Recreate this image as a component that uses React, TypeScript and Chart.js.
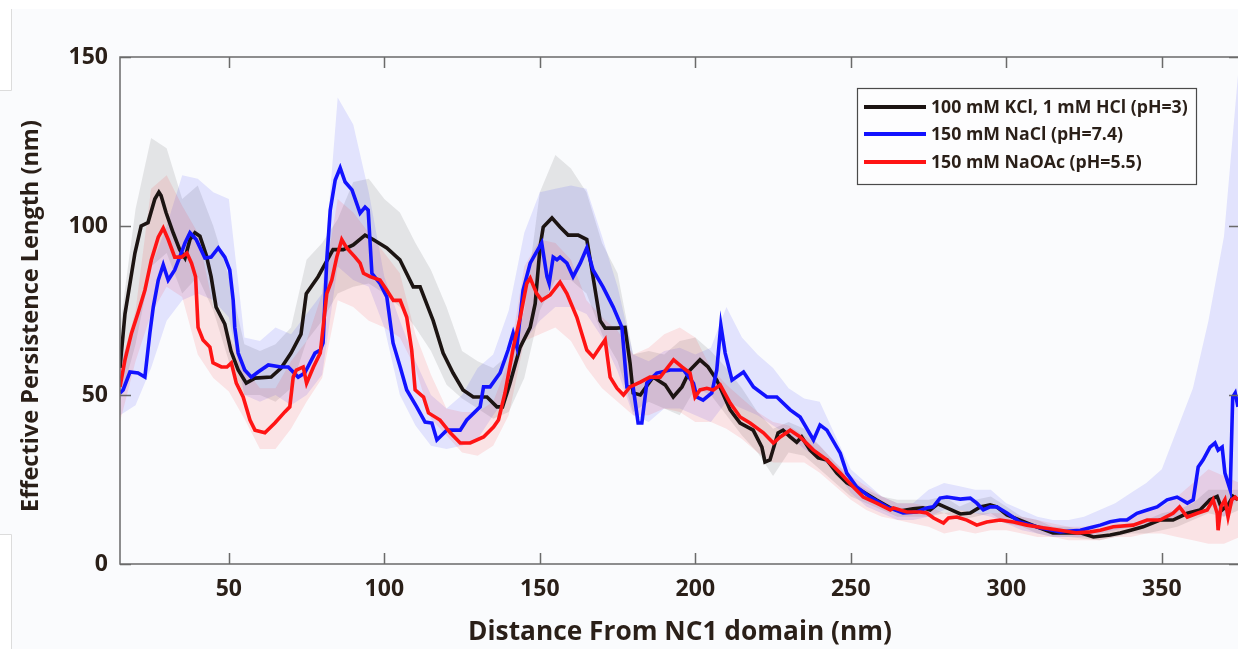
import React, { useEffect, useRef } from "react";
import { Chart, registerables } from "chart.js";

Chart.register(...registerables);

const W = 1238;
const H = 649;

const xTicks = [50, 100, 150, 200, 250, 300, 350];
const yTicks = [0, 50, 100, 150];
const xTitle = "Distance From NC1 domain (nm)";
const yTitle = "Effective Persistence Length (nm)";
const seriesLabels = [
  "100 mM KCl, 1 mM HCl (pH=3)",
  "150 mM NaCl (pH=7.4)",
  "150 mM NaOAc (pH=5.5)",
];
const lineColors = ["#1c1412", "#1212ff", "#ff1414"];
const bandColors = [
  "rgba(110,115,115,0.16)",
  "rgba(20,20,255,0.10)",
  "rgba(255,20,20,0.10)",
];

// mean curves, [distance, persistence length]
const blackPts = [
  [15, 58], [16.6, 74], [19.8, 92], [21.8, 100], [24, 101], [26.2, 108], [27.5, 110], [28.2, 109],
  [29.8, 104], [32.1, 98], [34.2, 93], [35.9, 90.5], [37.5, 96], [39.1, 98], [40.7, 97], [42.7, 91.5],
  [44.3, 85], [45.9, 76], [48.7, 71], [50.7, 63], [53, 57.4], [55.6, 53.5], [58.4, 55], [63.6, 55.3],
  [66.8, 58], [70, 62.4], [73.2, 68], [74.9, 80], [78.7, 85], [83.5, 93], [86.8, 93], [90, 94.4],
  [93.8, 97.3], [96.4, 96], [100.8, 93.5], [105, 90], [109.3, 82], [111.5, 82], [115.7, 72], [118.9, 62.4],
  [122.1, 56.5], [125.3, 51.5], [128.6, 49.4], [133, 49.4], [136.2, 46.5], [138, 46.5], [140.4, 53.5],
  [143.6, 64], [146.9, 70], [148.5, 77], [150.1, 94], [151.1, 99.7], [153.9, 102.4], [156.5, 99.7],
  [159.1, 97.3], [162.3, 97.3], [165.1, 96], [167.1, 85], [169.4, 72], [171, 69.8], [174.8, 69.8],
  [177.4, 70], [179, 59.5], [180, 50.6], [182.3, 50], [186.4, 55.3], [190.3, 53], [192.9, 49.4],
  [195.7, 52.4], [198.3, 57.4], [201.5, 60.4], [204.1, 58.3], [206.9, 54.4], [211.2, 45.6], [214.4, 41.7],
  [218.6, 39.6], [221.4, 34.6], [222.4, 30.2], [224, 30.8], [226.6, 38.8], [228.2, 39.6], [230.5, 37.6],
  [232.6, 36], [234.2, 37.6], [236.9, 33.7], [239.5, 31.4], [242.3, 30.8], [245.5, 26.9], [248.7, 24],
  [253, 21.9], [258.3, 18.9], [262.7, 16.6], [265.8, 15.7], [270, 16.3], [273.2, 16.6], [275.5, 16],
  [278, 17.8], [280.9, 16.6], [285.2, 14.8], [288.4, 15.1], [291.6, 16.9], [294.8, 17.5], [296.9, 16.9],
  [300.2, 14.5], [304.4, 13], [309.8, 11], [315, 9.2], [319.4, 9.2], [323.8, 9.2], [328, 8], [333.4, 8.6],
  [336.6, 9.2], [340, 10], [344, 11], [349.4, 13], [353.6, 13], [358.2, 15], [362.3, 16], [365.5, 19],
  [367.8, 20], [369.4, 16], [371.3, 17.5], [372.9, 20], [374.5, 19],
];

const bluePts = [
  [15, 50.6], [16, 51.5], [18.2, 56.8], [20.8, 56.5], [23, 55.3], [24.6, 68.3], [25.7, 76], [27.3, 84],
  [28.9, 88.5], [30.5, 84], [32.6, 87], [34.2, 90.8], [35.9, 95], [37.5, 98], [39.5, 96], [42.3, 90.5],
  [44.3, 90.8], [46.6, 93.5], [48.7, 90.8], [50.3, 87], [51.4, 78], [51.9, 70], [53, 62.4], [55.1, 57.4],
  [57.2, 55.3], [59.4, 56.8], [62.7, 58.9], [66.8, 58.3], [69.1, 58.3], [72.3, 55.3], [74.4, 56.5],
  [77.7, 62.4], [79.4, 63.3], [80.3, 65.4], [81.5, 90], [82.6, 104.7], [84.2, 113.6], [85.8, 117.2],
  [87.4, 113], [89.6, 110.7], [92.2, 103.8], [93.8, 105.6], [94.8, 104.7], [96, 86], [98.6, 83],
  [100.8, 79], [102.8, 65.4], [105.1, 58.3], [107.2, 51.5], [110.4, 46.5], [113.1, 42], [115.3, 41.7],
  [116.9, 36.7], [120.1, 39.6], [124.4, 39.6], [126.5, 42.6], [130.8, 46.5], [131.9, 52.4], [134, 52.4],
  [137.2, 56.5], [139.8, 63.3], [141.4, 68.3], [142.6, 64.2], [144.6, 81], [146.9, 89], [150.6, 95],
  [152.3, 85], [153, 83], [154.3, 90.8], [155.5, 90], [156.5, 90.8], [158.7, 89], [160.7, 85], [163, 89],
  [165.1, 93.5], [167.1, 87], [170.3, 82], [173.6, 76], [176.4, 70], [178, 52.4], [180, 52.4],
  [181.6, 41.7], [182.8, 41.7], [184.4, 53.5], [187.6, 56.5], [191.9, 57.4], [196.2, 57.4], [199.4, 53.5],
  [200.5, 49.4], [202.5, 48.5], [205.3, 50.6], [206.9, 57.4], [208.2, 70.7], [209.6, 62.4], [211.8, 54.4],
  [215.5, 56.8], [218.7, 52.4], [223, 49.4], [226.2, 49.4], [230.5, 45.6], [233.7, 43.5], [238, 36.7],
  [240.1, 41.1], [242.3, 39.6], [246.6, 32.8], [248.7, 26.9], [251.9, 22.8], [256.2, 19.8], [261.6, 16.9],
  [266.8, 15.1], [271.2, 15.4], [274.4, 16.6], [276.5, 16.9], [278.7, 19.5], [280.9, 19.8], [285.2, 19.2],
  [288.4, 19.5], [290.5, 18], [292.6, 16], [294.8, 16.9], [296.9, 16.9], [300.2, 15.1], [304.4, 12.4],
  [310.9, 10.7], [317.3, 9.5], [323.8, 10], [326.9, 10.7], [330.2, 11.5], [333.4, 12.5], [336.6, 13],
  [338.8, 13], [342, 15], [345.3, 16], [348.5, 16.9], [351.7, 19], [354.9, 19.8], [358.2, 18], [360.1, 19],
  [361.7, 28.7], [363.3, 30.8], [365.5, 34.6], [367.1, 35.8], [368.1, 33.7], [369.4, 34.6], [370.3, 26.9],
  [372, 21.9], [372.8, 49.4], [373.6, 50.6], [374.5, 46.5],
];

const redPts = [
  [15, 52.4], [16.6, 60.4], [18.7, 68.3], [20.8, 74.3], [23, 81], [25.1, 90], [27.3, 96.7], [28.9, 99.4],
  [30.5, 96], [32.6, 90.8], [34.8, 90.8], [36.5, 92], [38, 89], [39.3, 85], [40.1, 70], [41.7, 66.3],
  [43.9, 64.2], [44.9, 59.5], [47.6, 58.3], [49.4, 58.3], [50.8, 59.5], [52.4, 53.5], [54.6, 49.4],
  [56.8, 42.6], [58.4, 39.6], [61.6, 38.8], [64.8, 41.7], [68, 45], [69.6, 46.5], [70.7, 55.3],
  [71.7, 57.4], [73.9, 58.3], [75, 53.5], [77.2, 58.3], [79.4, 62.4], [81.5, 80], [83.1, 84], [84.7, 90.8],
  [86.3, 96], [87.9, 93.5], [90.6, 90.8], [92.2, 89], [93.3, 86], [95.4, 85], [98.6, 84], [100.8, 81],
  [102.9, 78], [105.1, 78], [107.2, 73], [108.8, 63.3], [109.9, 51.5], [112.6, 49.4], [114.2, 44.7],
  [117.9, 42.6], [121.2, 38.8], [124.4, 35.8], [127.6, 35.8], [131.9, 37.6], [135.1, 40.5], [136.7, 42.6],
  [138.8, 50.6], [141.5, 64.2], [143.7, 73], [145.8, 83], [146.9, 84.6], [149, 80], [150.6, 78],
  [153.3, 79.6], [156.5, 83.4], [158.7, 80], [161.9, 73], [165.1, 63.3], [167.2, 61.2], [169.4, 64.2],
  [171, 66.3], [172.6, 55.3], [174.8, 52], [176.9, 50], [179, 52.4], [182.3, 53.8], [185.4, 55.3],
  [188.7, 55.3], [193, 60.4], [195.7, 58.3], [198.3, 56.5], [199.9, 49.4], [201.5, 51.5], [203.7, 52],
  [205.8, 51.5], [208, 53], [211.2, 47.6], [214.4, 43.5], [217.6, 41.7], [221.9, 38.8], [225.1, 35.8],
  [227.3, 37.6], [230.5, 39.6], [233.7, 37.6], [238, 33.7], [242.3, 30.8], [246.6, 26.9], [250.8, 22.8],
  [254, 19.8], [258.3, 18], [262.7, 16], [263.7, 16.6], [268, 15.4], [272.3, 15.4], [274.4, 15.1],
  [276.6, 13.6], [279.8, 12.1], [281.4, 13.6], [284.1, 13.9], [287.3, 13], [290.5, 11.5], [293.7, 12.4],
  [298, 13], [302.3, 12.4], [306.6, 11.5], [311.8, 10.7], [317.3, 10], [322.7, 9.2], [327, 9.5],
  [330.2, 10], [334.4, 11], [340.8, 11.5], [345.3, 13], [349.4, 13], [353.6, 15], [355.7, 16.9],
  [358.2, 13.9], [361.4, 15], [364.6, 16], [366.5, 19], [367.8, 15], [368.1, 10], [369, 16.9],
  [370.3, 19], [371.3, 13.9], [372.5, 19], [373.6, 19.8], [374.5, 19],
];

// shaded uncertainty bands, sampled every 5 nm
const bandX = [
  15, 20, 25, 30, 35, 40, 45, 50, 55, 60, 65, 70, 75, 80, 85, 90, 95, 100, 105, 110, 115, 120, 125, 130,
  135, 140, 145, 150, 155, 160, 165, 170, 175, 180, 185, 190, 195, 200, 205, 210, 215, 220, 225, 230, 235,
  240, 245, 250, 255, 260, 265, 270, 275, 280, 285, 290, 295, 300, 305, 310, 315, 320, 325, 330, 335, 340,
  345, 350, 355, 360, 365, 370, 375,
];
const blackHi = [
  70, 105, 126, 123, 108, 112, 100, 85, 65, 63, 65, 70, 90, 95, 102, 113, 114, 108, 104, 95, 87, 76, 63, 60,
  58, 62, 75, 110, 121, 117, 110, 95, 86, 62, 63, 62, 66, 67, 63, 58, 52, 45, 40, 42, 40,
  35, 30, 25, 22, 20, 19, 19, 19, 20, 17, 19, 20, 17, 14, 13, 11, 11, 10, 10, 11, 12,
  13, 15, 16, 18, 22, 22, 22,
];
const blackLo = [
  48, 65, 88, 92, 80, 85, 75, 60, 50, 50, 48, 52, 66, 72, 80, 82, 83, 80, 76, 70, 63, 53, 49, 46,
  43, 45, 55, 75, 84, 84, 80, 68, 60, 45, 48, 46, 44, 52, 50, 44, 38, 33, 26, 33, 32,
  28, 24, 20, 18, 16, 14, 14, 14, 15, 13, 14, 15, 12, 11, 9, 8, 8, 7.5, 7, 8, 9,
  9, 10, 11, 13, 15, 14, 16,
];
const blueHi = [
  60, 70, 88, 100, 115, 114, 110, 108, 67, 66, 70, 68, 74, 80, 138, 130, 110, 85, 72, 60, 50, 46, 50, 58,
  62, 75, 98, 110, 111, 112, 111, 97, 82, 62, 60, 63, 64, 62, 64, 76, 67, 62, 58, 52, 49,
  48, 38, 28, 24, 20, 18, 18, 22, 24, 23, 22, 22, 18, 16, 14, 13, 13, 14, 16, 18, 21,
  24, 28, 40, 52, 72, 97, 150,
];
const blueLo = [
  44, 47, 58, 72, 78, 80, 78, 73, 50, 48, 50, 47, 50, 56, 88, 84, 82, 70, 50, 41, 35, 34, 35, 37,
  44, 50, 66, 72, 76, 76, 74, 67, 57, 44, 42, 46, 46, 44, 42, 48, 46, 44, 41, 38, 34,
  31, 28, 21, 17, 15, 13, 13, 14, 16, 16, 15, 14, 12, 10, 9, 8, 8, 8, 9, 10, 11,
  12, 13, 14, 15, 18, 14, 20,
];
const redHi = [
  58, 75, 111, 115, 106, 98, 76, 68, 58, 52, 52, 60, 66, 80, 108, 104, 98, 92, 86, 68, 56, 46, 45, 45,
  48, 60, 88, 96, 95, 90, 78, 73, 69, 62, 64, 68, 70, 67, 58, 53, 49, 45, 42, 41, 38,
  35, 30, 26, 23, 20, 18, 18, 17, 15, 16, 15, 15, 15, 14, 13, 12, 11, 11, 12, 13, 14,
  16, 17, 20, 24, 28, 26, 24,
];
const redLo = [
  42, 60, 74, 82, 79, 62, 55, 51, 43, 34, 34, 40, 48, 55, 78, 76, 72, 70, 67, 58, 43, 38, 33, 32,
  35, 44, 66, 68, 70, 66, 58, 52, 48, 44, 44, 46, 45, 42, 42, 40, 37, 33, 30, 30, 30,
  27, 23, 19, 16, 14, 13, 12, 11, 9, 10, 9, 10, 10, 9, 8, 8, 7, 7, 7, 8, 8,
  9, 9, 8, 7, 6, 6, 8,
];

const TEXT = "#2a1f18";
const FONT = '"Open Sans", "DejaVu Sans", sans-serif';

function fitFont(ctx: CanvasRenderingContext2D, text: string, target: number, base: number) {
  ctx.font = `bold ${base}px ${FONT}`;
  const w = ctx.measureText(text).width;
  return (base * target) / w;
}

const decorPlugin = {
  id: "decor",
  beforeDraw(chart: any) {
    const ctx = chart.ctx as CanvasRenderingContext2D;
    ctx.save();
    ctx.fillStyle = "#fafbfd";
    ctx.fillRect(0, 0, chart.width, chart.height);
    ctx.fillStyle = "#ffffff";
    ctx.fillRect(0, 0, chart.width, 9);
    ctx.fillRect(0, 9, 11, 81);
    ctx.fillRect(0, 534, 11, 115);
    ctx.strokeStyle = "#dcdcdc";
    ctx.lineWidth = 1;
    ctx.beginPath();
    ctx.moveTo(11.5, 9);
    ctx.lineTo(11.5, 90.5);
    ctx.lineTo(0, 90.5);
    ctx.moveTo(0, 534.5);
    ctx.lineTo(11.5, 534.5);
    ctx.lineTo(11.5, 649);
    ctx.stroke();
    ctx.restore();
  },
  afterDraw(chart: any) {
    const ctx = chart.ctx as CanvasRenderingContext2D;
    const { left, right, top, bottom } = chart.chartArea;
    const xs = chart.scales.x;
    const ys = chart.scales.y;
    ctx.save();
    // box and inward ticks
    ctx.strokeStyle = "#6a6a6a";
    ctx.lineWidth = 1.5;
    ctx.beginPath();
    ctx.moveTo(right + 2, top);
    ctx.lineTo(left, top);
    ctx.lineTo(left, bottom);
    ctx.lineTo(right + 2, bottom);
    const tl = 11;
    xTicks.forEach((v) => {
      const px = Math.round(xs.getPixelForValue(v)) + 0.5;
      ctx.moveTo(px, bottom);
      ctx.lineTo(px, bottom - tl);
      ctx.moveTo(px, top);
      ctx.lineTo(px, top + tl);
    });
    yTicks.forEach((v) => {
      const py = Math.round(ys.getPixelForValue(v)) + 0.5;
      ctx.moveTo(left, py);
      ctx.lineTo(left + tl, py);
      ctx.moveTo(right - 9, py);
      ctx.lineTo(right + 2, py);
    });
    ctx.stroke();

    // axis titles
    ctx.fillStyle = TEXT;
    const fx = fitFont(ctx, xTitle, 424, 24);
    ctx.font = `bold ${fx}px ${FONT}`;
    ctx.textAlign = "center";
    ctx.textBaseline = "alphabetic";
    ctx.fillText(xTitle, (left + right) / 2 + 1, 640);

    const fy = fitFont(ctx, yTitle, 392, 24);
    ctx.font = `bold ${fy}px ${FONT}`;
    ctx.save();
    ctx.translate(38, 316);
    ctx.rotate(-Math.PI / 2);
    ctx.fillText(yTitle, 0, 0);
    ctx.restore();

    // legend box
    const lx = 857, ly = 88, lw = 339, lh = 96;
    ctx.fillStyle = "#fdfdfe";
    ctx.fillRect(lx, ly, lw, lh);
    ctx.strokeStyle = "#4a4a4a";
    ctx.lineWidth = 1.2;
    ctx.strokeRect(lx + 0.5, ly + 0.5, lw, lh);
    const fl = fitFont(ctx, seriesLabels[0], 257, 17);
    const rows = [107, 134, 162];
    seriesLabels.forEach((lab, i) => {
      ctx.strokeStyle = lineColors[i];
      ctx.lineWidth = 4;
      ctx.beginPath();
      ctx.moveTo(864, rows[i]);
      ctx.lineTo(926, rows[i]);
      ctx.stroke();
      ctx.fillStyle = TEXT;
      ctx.font = `bold ${fl}px ${FONT}`;
      ctx.textAlign = "left";
      ctx.textBaseline = "middle";
      ctx.fillText(lab, 931, rows[i] + 1);
    });
    ctx.restore();
  },
};

function toXY(pts: number[][]) {
  return pts.map(([x, y]) => ({ x, y }));
}
function bandXY(ys: number[]) {
  return bandX.map((x, i) => ({ x, y: ys[i] }));
}

export default function App() {
  const ref = useRef<HTMLCanvasElement | null>(null);
  useEffect(() => {
    if (!ref.current) return;
    const lineDs = (pts: number[][], i: number) => ({
      label: seriesLabels[i],
      data: toXY(pts),
      borderColor: lineColors[i],
      borderWidth: 3.6,
      pointRadius: 0,
      tension: 0,
      fill: false,
      order: 3 - i,
    });
    const hiDs = (ys: number[], i: number, target: number) => ({
      label: "band-hi-" + i,
      data: bandXY(ys),
      borderWidth: 0,
      borderColor: "rgba(0,0,0,0)",
      backgroundColor: bandColors[i],
      pointRadius: 0,
      tension: 0,
      fill: target,
      order: 20 - i,
    });
    const loDs = (ys: number[], i: number) => ({
      label: "band-lo-" + i,
      data: bandXY(ys),
      borderWidth: 0,
      borderColor: "rgba(0,0,0,0)",
      pointRadius: 0,
      tension: 0,
      fill: false,
      order: 20 - i,
    });
    const chart = new Chart(ref.current, {
      type: "line",
      data: {
        datasets: [
          hiDs(blackHi, 0, 1),
          loDs(blackLo, 0),
          hiDs(blueHi, 1, 3),
          loDs(blueLo, 1),
          hiDs(redHi, 2, 5),
          loDs(redLo, 2),
          lineDs(blackPts, 0),
          lineDs(bluePts, 1),
          lineDs(redPts, 2),
        ] as any,
      },
      options: {
        animation: false,
        responsive: false,
        devicePixelRatio: 1,
        layout: { padding: { top: 57, right: 0, left: 0, bottom: 0 } },
        plugins: {
          legend: { display: false },
          tooltip: { enabled: false },
        },
        scales: {
          x: {
            type: "linear",
            min: 15,
            max: 374.5,
            grid: { display: false, drawTicks: false },
            border: { display: false },
            afterBuildTicks: (s: any) => {
              s.ticks = xTicks.map((v) => ({ value: v }));
            },
            afterFit: (s: any) => {
              s.height = H - 564;
            },
            ticks: {
              padding: 12,
              color: TEXT,
              font: { family: FONT, size: 23, weight: "bold" },
              maxRotation: 0,
            },
          },
          y: {
            type: "linear",
            min: 0,
            max: 150,
            grid: { display: false, drawTicks: false },
            border: { display: false },
            afterBuildTicks: (s: any) => {
              s.ticks = yTicks.map((v) => ({ value: v }));
            },
            afterFit: (s: any) => {
              s.width = 120;
            },
            ticks: {
              padding: 12,
              color: TEXT,
              font: { family: FONT, size: 23, weight: "bold" },
            },
          },
        },
      } as any,
      plugins: [decorPlugin],
    });
    return () => chart.destroy();
  }, []);
  return (
    <div style={{ position: "fixed", left: 0, top: 0, width: W, height: H, background: "#fafbfd" }}>
      <canvas ref={ref} width={W} height={H} style={{ width: W, height: H, display: "block" }} />
    </div>
  );
}
